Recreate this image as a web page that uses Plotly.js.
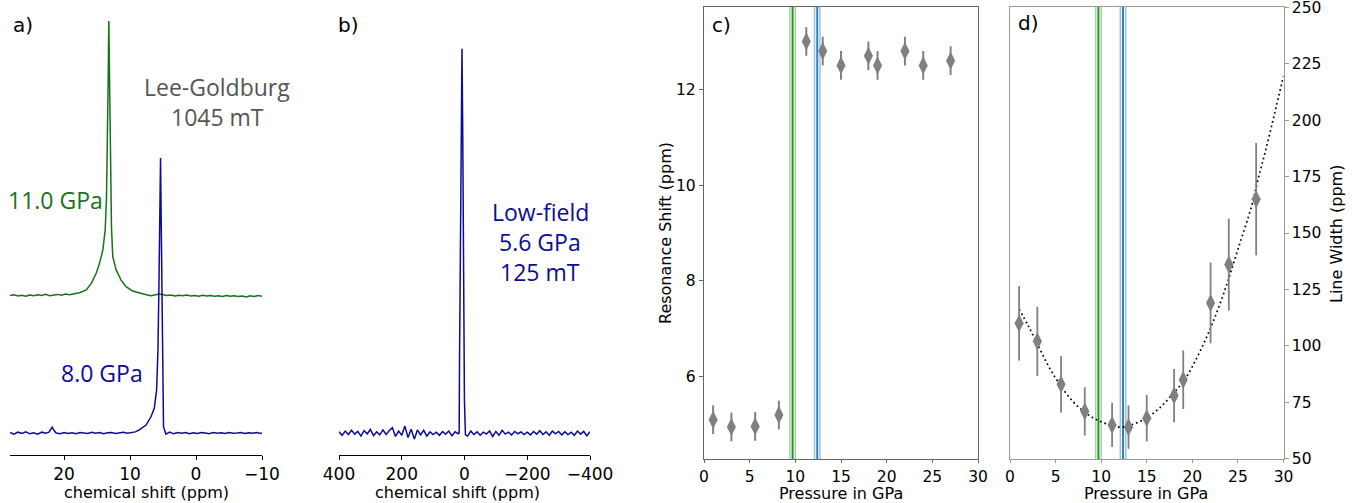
<!DOCTYPE html>
<html>
<head>
<meta charset="utf-8">
<script src="https://cdn.plot.ly/plotly-3.0.1.min.js"></script>
<style>html,body{margin:0;padding:0;background:#fff;}#chart{width:1356px;height:503px;}</style>
</head>
<body>
<div id="chart"></div>
<script>
// ---------- Panel a: Lee-Goldburg spectra (intensity normalised, 11.0 GPa offset by 0.5) ----------
const greenPpm = [28.2, 27.6, 27.0, 26.4, 25.8, 25.2, 24.6, 24.0, 23.4, 22.8, 22.2, 21.6, 21.0, 20.4, 19.8, 19.2, 18.6, 18.0,
  17.64, 16.63, 15.88, 15.13, 14.63, 14.13, 13.77, 13.57, 13.42, 13.31, 13.22, 13.12, 13.02, 12.92, 12.82, 12.62, 12.11, 11.36, 10.6, 9.6, 8.1,
  7.4, 6.8, 6.2, 5.6, 5.0, 4.4, 3.8, 3.2, 2.6, 2.0, 1.4, 0.8, 0.2,
  -0.4, -1.0, -1.6, -2.2, -2.8, -3.4, -4.0, -4.6, -5.2, -5.8, -6.4, -7.0, -7.6, -8.2, -8.8, -9.4, -10.0];
const greenInt = [0.500, 0.503, 0.498, 0.501, 0.497, 0.502, 0.499, 0.503, 0.500, 0.504, 0.499, 0.502, 0.504, 0.501, 0.505, 0.503, 0.506, 0.507,
  0.510, 0.520, 0.544, 0.581, 0.617, 0.665, 0.738, 0.859, 1.053, 1.296, 1.498, 1.290, 0.990, 0.850, 0.750, 0.641, 0.593, 0.556, 0.532, 0.516, 0.505,
  0.502, 0.499, 0.503, 0.505, 0.503, 0.500, 0.502, 0.498, 0.501, 0.499, 0.502, 0.498, 0.500,
  0.497, 0.501, 0.498, 0.500, 0.497, 0.499, 0.496, 0.500, 0.497, 0.499, 0.496, 0.498, 0.495, 0.499, 0.496, 0.500, 0.497];

const bluePpm = [28.2, 27.6, 27.0, 26.4, 25.8, 25.2, 24.6, 24.0, 23.4, 22.8, 22.3, 22.0, 21.8, 21.5, 21.2,
  20.6, 20.0, 19.4, 18.8, 18.2, 17.6, 17.0, 16.4, 15.8, 15.2, 14.6, 14.0, 13.4, 12.8, 12.2, 11.6, 11.0, 10.4, 9.8, 9.2,
  8.6, 7.58, 6.83, 6.33, 5.98, 5.77, 5.62, 5.47, 5.38, 5.23, 5.08, 4.93, 4.57,
  4.0, 3.4, 2.8, 2.2, 1.6, 1.0, 0.4, -0.2, -0.8, -1.4, -2.0, -2.6, -3.2, -3.8, -4.4, -5.0, -5.6, -6.2, -6.8, -7.4, -8.0, -8.6, -9.2, -9.8, -10.0];
const blueInt = [0.002, -0.004, 0.003, -0.002, 0.004, -0.003, 0.001, -0.004, 0.003, -0.001, 0.003, 0.012, 0.021, 0.008, 0.000,
  -0.003, 0.002, -0.002, 0.001, -0.003, 0.002, 0.000, -0.002, 0.003, -0.001, 0.002, -0.003, 0.001, 0.002, -0.002, 0.001, 0.003, -0.001, 0.002, 0.004,
  0.011, 0.029, 0.059, 0.090, 0.156, 0.302, 0.544, 0.847, 1.000, 0.665, 0.241, 0.023, -0.004,
  0.003, -0.003, 0.002, -0.001, 0.002, -0.003, 0.001, -0.002, 0.002, 0.000, -0.003, 0.002, -0.001, 0.001, -0.002, 0.002, -0.001, 0.000, 0.002, -0.002, 0.001, -0.001, 0.002, -0.002, 0.001];

// ---------- Panel b: low-field spectrum ----------
const lowPpm = [400, 390, 380, 370, 360, 350, 340, 330, 320, 310, 300, 290, 280, 270, 260, 250, 240, 230, 220, 210,
  200, 190, 180, 170, 160, 150, 140, 130, 120, 110, 100, 90, 80, 70, 60, 50, 40, 30, 20,
  17, 16, 13, 11, 8, 5.6, 3.3, 0.2, -3,
  -10, -20, -30, -40, -50, -60, -70, -80, -90, -100, -110, -120, -130, -140, -150, -160, -170, -180, -190, -200,
  -210, -220, -230, -240, -250, -260, -270, -280, -290, -300, -310, -320, -330, -340, -350, -360, -370, -380, -390, -400];
const lowInt = [0.003, -0.006, 0.005, -0.004, 0.007, -0.003, 0.004, -0.008, 0.006, -0.002, 0.009, -0.007, 0.003, -0.005, 0.008, -0.004, 0.006, 0.014, -0.009, 0.005,
  -0.006, 0.018, -0.012, 0.010, -0.016, 0.008, -0.005, 0.007, -0.008, 0.003, -0.004, 0.002, -0.006, 0.004, -0.003, 0.005, -0.007, 0.003, -0.002,
  0.000, 0.173, 0.520, 0.867, 1.000, 0.780, 0.433, 0.086, -0.005,
  -0.008, 0.005, -0.004, 0.003, -0.006, 0.002, -0.003, 0.005, -0.009, 0.004, -0.006, 0.007, -0.003, 0.002, -0.005, 0.004, -0.002, 0.003, -0.004, 0.002,
  -0.005, 0.004, -0.003, 0.006, -0.004, 0.003, -0.006, 0.005, -0.002, 0.004, -0.005, 0.003, -0.004, 0.002, -0.006, 0.005, -0.003, 0.004, -0.007, 0.003];

// ---------- Panels c & d: pressure series ----------
const pressure = [1, 3, 5.6, 8.2, 11.2, 13, 15, 18, 19, 22, 24, 27];
const shift = [5.1, 4.95, 4.96, 5.2, 13.0, 12.8, 12.5, 12.7, 12.5, 12.8, 12.5, 12.6];
const shiftErr = [0.3, 0.3, 0.3, 0.3, 0.3, 0.3, 0.3, 0.3, 0.3, 0.3, 0.3, 0.3];
const width = [110, 102, 83, 71, 65, 64, 68, 78, 85, 119, 136, 165];
const widthErr = [16.5, 15.3, 12.5, 10.7, 9.8, 9.6, 10.3, 11.8, 13, 17.9, 20.4, 24.9];
const fitP = [1.0, 2.0, 3.1, 4.2, 5.3, 6.8, 8.2, 9.7, 11.2, 12.3, 13.3, 14.8, 16.3, 17.7, 19.2, 20.7, 22.1, 23.6, 25.0, 26.5, 27.2, 28.0, 29.0, 30.0];
const fitW = [116.3, 108.9, 100.0, 91.2, 83.9, 75.8, 70.6, 66.9, 64.7, 64.0, 65.0, 67.7, 72.1, 78.0, 85.3, 96.4, 108.9, 125.1, 142.8, 161.9, 173.7, 186.0, 202.5, 219.6];
const greenBand = [9.4, 9.7, 10.0];
const blueBand = [12.1, 12.4, 12.7];

const GREEN = '#16731a', BLUE = '#0c0c96', GRAY = '#808080';
const W = 1356, H = 503;
const fx = p => p / W, fy = p => 1 - p / H;

const traces = [
  {x: greenPpm, y: greenInt, xaxis: 'x', yaxis: 'y', mode: 'lines', line: {color: GREEN, width: 1.5}},
  {x: bluePpm, y: blueInt, xaxis: 'x', yaxis: 'y', mode: 'lines', line: {color: BLUE, width: 1.5}},
  {x: lowPpm, y: lowInt, xaxis: 'x2', yaxis: 'y2', mode: 'lines', line: {color: BLUE, width: 1.5}},
  {x: pressure, y: shift, xaxis: 'x3', yaxis: 'y3', mode: 'markers',
   marker: {symbol: 'diamond-tall', size: 13, color: GRAY},
   error_y: {type: 'data', array: shiftErr, visible: true, color: GRAY, thickness: 2, width: 0}},
  {x: fitP, y: fitW, xaxis: 'x4', yaxis: 'y4', mode: 'lines', line: {color: 'black', width: 1.7, dash: '1.7px,3px', shape: 'spline'}},
  {x: pressure, y: width, xaxis: 'x4', yaxis: 'y4', mode: 'markers',
   marker: {symbol: 'diamond-tall', size: 13, color: GRAY},
   error_y: {type: 'data', array: widthErr, visible: true, color: GRAY, thickness: 1.8, width: 0}}
];

const shapes = [];
[['x3', 'y3'], ['x4', 'y4']].forEach(([xa, ya]) => {
  [[greenBand, 'rgba(44,160,44,0.45)', '#2a8f2a'], [blueBand, 'rgba(31,119,180,0.45)', '#2b7fc0']].forEach(([b, light, dark]) => {
    shapes.push({type: 'line', xref: xa, yref: ya + ' domain', x0: b[0], x1: b[0], y0: 0, y1: 1, line: {color: light, width: 1.5}, layer: 'below'});
    shapes.push({type: 'line', xref: xa, yref: ya + ' domain', x0: b[2], x1: b[2], y0: 0, y1: 1, line: {color: light, width: 1.5}, layer: 'below'});
    shapes.push({type: 'line', xref: xa, yref: ya + ' domain', x0: b[1], x1: b[1], y0: 0, y1: 1, line: {color: dark, width: 2}, layer: 'below'});
  });
});

const tickFontAB = {family: 'DejaVu Sans', size: 17, color: 'black'};
const tickFontCD = {family: 'DejaVu Sans', size: 15.5, color: 'black'};
const titleFont = {family: 'DejaVu Sans', size: 16, color: 'black'};
const annFont = (c) => ({family: 'Open Sans', size: 23, color: c});
const letterFont = {family: 'DejaVu Sans', size: 20, color: 'black'};

function label(x, y, text, font, angle) {
  return {xref: 'paper', yref: 'paper', x: fx(x), y: fy(y), text: text, showarrow: false,
          xanchor: 'center', yanchor: 'middle', font: font, textangle: angle || 0};
}

const axisCommon = {showline: true, linewidth: 1.2, ticks: 'outside', ticklen: 4, showgrid: false, zeroline: false, ticklabeloverflow: 'allow'};

const layout = {
  width: W, height: H,
  margin: {l: 0, r: 0, t: 0, b: 0},
  paper_bgcolor: 'white', plot_bgcolor: 'white',
  showlegend: false,
  xaxis: Object.assign({}, axisCommon, {domain: [fx(10), fx(262)], anchor: 'y', range: [28.2, -10], tickvals: [20, 10, 0, -10], ticktext: ['20', '10', '0', '\u221210'],
    linecolor: 'black', linewidth: 1, tickcolor: 'black', tickfont: tickFontAB}),
  yaxis: {domain: [fy(455), fy(7)], anchor: 'x', range: [-0.08, 1.549], visible: false},
  xaxis2: Object.assign({}, axisCommon, {domain: [fx(339), fx(590)], anchor: 'y2', range: [400, -400], tickvals: [400, 200, 0, -200, -400], ticktext: ['400', '200', '0', '\u2212200', '\u2212400'],
    linecolor: 'black', linewidth: 1, tickcolor: 'black', tickfont: tickFontAB}),
  yaxis2: {domain: [fy(455), fy(7)], anchor: 'x2', range: [-0.0573, 1.109], visible: false},
  xaxis3: Object.assign({}, axisCommon, {domain: [fx(704), fx(978)], anchor: 'y3', range: [0, 30], tickvals: [0, 5, 10, 15, 20, 25, 30],
    mirror: true, ticklen: 3, linecolor: '#666', tickcolor: '#666', tickfont: tickFontCD}),
  yaxis3: Object.assign({}, axisCommon, {domain: [fy(459), fy(7)], anchor: 'x3', range: [4.28, 13.72], tickvals: [6, 8, 10, 12],
    mirror: true, linecolor: '#666', tickcolor: '#666', tickfont: tickFontCD}),
  xaxis4: Object.assign({}, axisCommon, {domain: [fx(1010), fx(1283.5)], anchor: 'y4', range: [0, 30], tickvals: [0, 5, 10, 15, 20, 25, 30],
    mirror: true, ticklen: 3, linecolor: '#999', tickcolor: '#999', tickfont: tickFontCD}),
  yaxis4: Object.assign({}, axisCommon, {domain: [fy(459), fy(7)], anchor: 'x4', side: 'right', range: [49.9, 250.1], tickvals: [50, 75, 100, 125, 150, 175, 200, 225, 250],
    mirror: true, linecolor: '#999', tickcolor: '#999', tickfont: tickFontCD}),
  shapes: shapes,
  annotations: [
    label(23, 25, 'a)', letterFont),
    label(348, 25, 'b)', letterFont),
    label(721, 25, 'c)', letterFont),
    label(1028, 23, 'd)', letterFont),
    label(217, 87, 'Lee-Goldburg', annFont('#555555')),
    label(217, 117, '1045 mT', annFont('#555555')),
    label(55, 200, '11.0 GPa', annFont(GREEN)),
    label(102, 373, '8.0 GPa', annFont(BLUE)),
    label(540, 212, 'Low-field', annFont(BLUE)),
    label(540, 242, '5.6 GPa', annFont(BLUE)),
    label(540, 272, '125 mT', annFont(BLUE)),
    // axis titles
    label(146, 492.5, 'chemical shift (ppm)', titleFont),
    label(457, 492.5, 'chemical shift (ppm)', titleFont),
    label(841, 493.5, 'Pressure in GPa', titleFont),
    label(1146, 493.5, 'Pressure in GPa', titleFont),
    label(665, 233, 'Resonance Shift (ppm)', titleFont, -90),
    label(1337, 234, 'Line Width (ppm)', titleFont, -90)
  ]
};

Plotly.newPlot('chart', traces, layout, {staticPlot: true, displayModeBar: false});
</script>
</body>
</html>
